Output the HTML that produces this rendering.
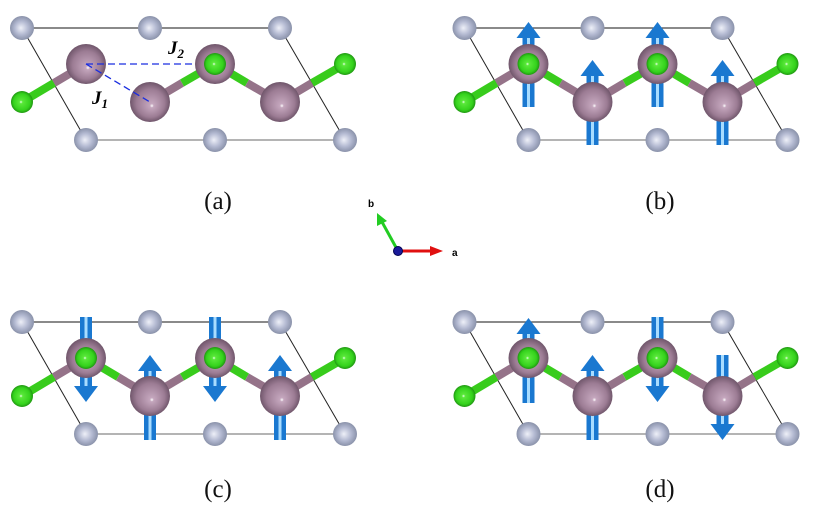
<!DOCTYPE html>
<html><head><meta charset="utf-8"><style>
html,body{margin:0;padding:0;background:#fff;}
svg{display:block;}
</style></head><body>
<svg width="830" height="517" viewBox="0 0 830 517" xmlns="http://www.w3.org/2000/svg">
<defs>
<radialGradient id="gg" cx="0.5" cy="0.5" r="0.5" fx="0.45" fy="0.5"><stop offset="0" stop-color="#eef0f8"/><stop offset="0.55" stop-color="#b4bad2"/><stop offset="1" stop-color="#8a92aa"/></radialGradient>
<radialGradient id="pg" cx="0.5" cy="0.5" r="0.5" fx="0.55" fy="0.6"><stop offset="0" stop-color="#ffffff"/><stop offset="0.1" stop-color="#c4a6bd"/><stop offset="0.7" stop-color="#9c7c94"/><stop offset="1" stop-color="#70566b"/></radialGradient>
<radialGradient id="grg" cx="0.5" cy="0.5" r="0.5" fx="0.45" fy="0.5"><stop offset="0" stop-color="#f0fff0"/><stop offset="0.15" stop-color="#5ae83a"/><stop offset="0.75" stop-color="#34d21c"/><stop offset="1" stop-color="#209612"/></radialGradient>
<g id="G"><circle r="12" fill="url(#gg)"/></g>
<g id="P"><circle r="20" fill="url(#pg)"/></g>
<g id="Gr"><circle r="11" fill="url(#grg)"/></g>
<g id="up"><rect x="-6" y="15" width="12" height="70" fill="#1a78d0"/><rect x="-1.5" y="15" width="3" height="70" fill="#a8dcff"/><polygon points="-12,16 0,0 12,16" fill="#1a78d0"/></g>
<g id="cell">
<line x1="22" y1="28" x2="280" y2="28" stroke="#444" stroke-width="1.3"/>
<line x1="86" y1="140" x2="345" y2="140" stroke="#888" stroke-width="1.3"/>
<line x1="22" y1="28" x2="86" y2="140" stroke="#222" stroke-width="1"/>
<line x1="280" y1="28" x2="345" y2="140" stroke="#222" stroke-width="1"/>
</g>
<g id="bonds">
<line x1="22" y1="102" x2="54" y2="83" stroke="#38cc1c" stroke-width="8"/>
<line x1="54" y1="83" x2="86" y2="64" stroke="#957389" stroke-width="8"/>
<line x1="150" y1="102" x2="182" y2="83" stroke="#957389" stroke-width="8"/>
<line x1="182" y1="83" x2="215" y2="64" stroke="#38cc1c" stroke-width="8"/>
<line x1="215" y1="64" x2="247" y2="83" stroke="#38cc1c" stroke-width="8"/>
<line x1="247" y1="83" x2="280" y2="102" stroke="#957389" stroke-width="8"/>
<line x1="280" y1="102" x2="312" y2="83" stroke="#957389" stroke-width="8"/>
<line x1="312" y1="83" x2="345" y2="64" stroke="#38cc1c" stroke-width="8"/>
</g>
<g id="bond2">
<line x1="86" y1="64" x2="118" y2="83" stroke="#38cc1c" stroke-width="8"/>
<line x1="118" y1="83" x2="150" y2="102" stroke="#957389" stroke-width="8"/>
</g>
<g id="atoms">
<use href="#G" x="22" y="28"/><use href="#G" x="150" y="28"/><use href="#G" x="280" y="28"/>
<use href="#G" x="86" y="140"/><use href="#G" x="215" y="140"/><use href="#G" x="345" y="140"/>
<use href="#P" x="86" y="64"/><use href="#P" x="150" y="102"/><use href="#P" x="215" y="64"/><use href="#P" x="280" y="102"/>
<use href="#Gr" x="22" y="102"/><use href="#Gr" x="215" y="64"/><use href="#Gr" x="345" y="64"/>
</g>
</defs>

<use href="#cell"/>
<use href="#bonds"/>
<use href="#atoms"/>
<line x1="86" y1="64" x2="192" y2="64" stroke="#1a2ee0" stroke-width="1.3" stroke-dasharray="7,4"/>
<line x1="86" y1="64" x2="150" y2="102" stroke="#1a2ee0" stroke-width="1.3" stroke-dasharray="7,4"/>
<text x="168" y="54" font-family="Liberation Serif, serif" font-style="italic" font-weight="bold" font-size="19">J<tspan font-size="13" dy="4">2</tspan></text>
<text x="92" y="104" font-family="Liberation Serif, serif" font-style="italic" font-weight="bold" font-size="19">J<tspan font-size="13" dy="4">1</tspan></text>

<g transform="translate(442.5,0)">
<use href="#cell"/>
<use href="#up" x="86" y="22"/><use href="#up" x="150" y="60"/><use href="#up" x="215" y="22"/><use href="#up" x="280" y="60"/>
<use href="#bonds"/><use href="#bond2"/>
<use href="#atoms"/>
<use href="#Gr" x="86" y="64"/>
</g>

<g transform="translate(0,294)">
<use href="#cell"/>
<g transform="translate(86,108) scale(1,-1)"><use href="#up"/></g>
<use href="#up" x="150" y="61"/>
<g transform="translate(215,108) scale(1,-1)"><use href="#up"/></g>
<use href="#up" x="280" y="61"/>
<use href="#bonds"/><use href="#bond2"/>
<use href="#atoms"/>
<use href="#Gr" x="86" y="64"/>
</g>

<g transform="translate(442.5,294)">
<use href="#cell"/>
<use href="#up" x="86" y="24"/>
<use href="#up" x="150" y="61"/>
<g transform="translate(215,108) scale(1,-1)"><use href="#up"/></g>
<g transform="translate(280,146) scale(1,-1)"><use href="#up"/></g>
<use href="#bonds"/><use href="#bond2"/>
<use href="#atoms"/>
<use href="#Gr" x="86" y="64"/>
</g>

<g font-family="Liberation Serif, serif" font-size="25" text-anchor="middle" fill="#111">
<text x="218" y="209">(a)</text>
<text x="660" y="209">(b)</text>
<text x="218" y="497">(c)</text>
<text x="660" y="497">(d)</text>
</g>

<line x1="398" y1="251" x2="432" y2="251" stroke="#e01010" stroke-width="3"/>
<polygon points="430,246 443,251 430,256" fill="#e01010"/>
<line x1="398" y1="251" x2="382" y2="222" stroke="#22cc22" stroke-width="3"/>
<polygon points="377,213 377,226 387,221" fill="#22cc22"/>
<circle cx="398" cy="251" r="4.5" fill="#1a1a9a" stroke="#000050" stroke-width="1"/>
<text x="452" y="256" font-family="Liberation Sans, sans-serif" font-weight="bold" font-size="10">a</text>
<text x="368" y="207" font-family="Liberation Sans, sans-serif" font-weight="bold" font-size="10">b</text>
</svg>
</body></html>
